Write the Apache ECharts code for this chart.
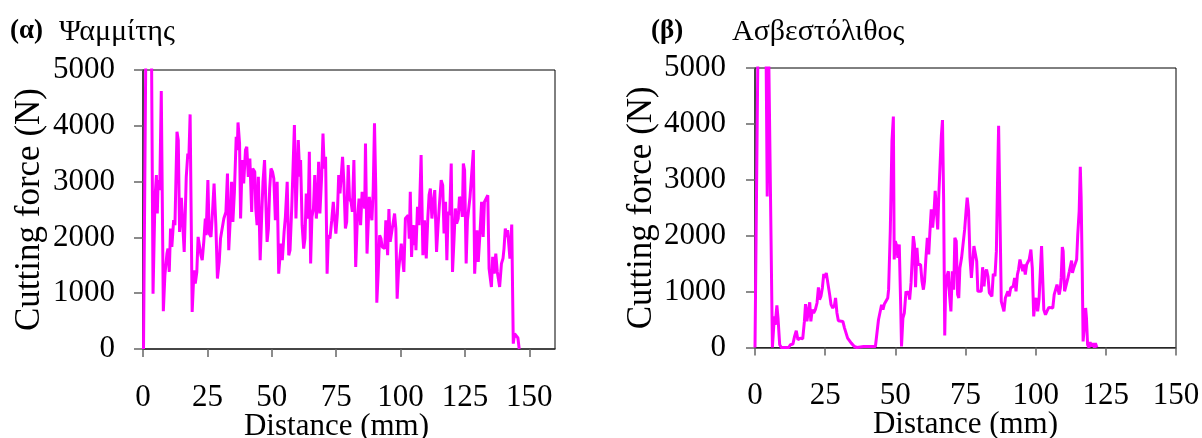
<!DOCTYPE html>
<html>
<head>
<meta charset="utf-8">
<script src="https://cdn.jsdelivr.net/npm/echarts@6/dist/echarts.min.js"></script>
<style>
html,body{margin:0;padding:0;background:#fff;}
#chart{width:1202px;height:438px;}
</style>
</head>
<body>
<div id="chart"></div>
<script>
// ---- Data ----
const leftTitleTag = '(α)';
const leftTitle = 'Ψαμμίτης';
const rightTitleTag = '(β)';
const rightTitle = 'Ασβεστόλιθος';
const xName = 'Distance (mm)';
const yName = 'Cutting force (N)';
const xTicks = [0, 25, 50, 75, 100, 125, 150];

const leftDist = [
  0.2,1.1,3.3,3.9,4.65,5.2,5.55,5.9,6.5,7.1,
  7.9,8.5,9.3,9.7,10.2,10.7,11.2,11.9,12.4,13.2,
  13.7,14.2,14.9,15.4,16.0,16.8,17.4,17.8,18.3,19.1,
  19.8,20.3,20.9,21.4,22.0,22.5,23.0,23.6,24.2,24.5,
  25.2,25.7,26.4,27.0,27.6,28.3,28.9,29.6,30.1,30.7,
  31.4,32.2,32.8,33.3,33.9,34.4,34.9,35.5,36.2,36.6,
  36.9,37.5,37.9,38.5,39.1,39.8,40.3,40.9,41.5,42.2,
  42.6,43.4,43.8,44.3,44.8,45.5,46.1,46.6,47.2,47.7,
  48.2,48.7,49.2,49.7,50.3,50.8,51.4,52.1,52.7,53.6,
  54.1,54.8,55.3,56.0,56.6,57.1,57.8,58.3,58.8,59.4,
  59.9,60.3,60.9,61.2,61.8,62.4,62.9,63.4,64.1,64.6,
  65.1,65.6,66.2,66.7,67.3,67.8,68.2,68.7,69.4,69.9,
  70.4,70.9,71.5,72.0,72.6,73.3,73.9,74.4,74.9,75.5,
  76.0,76.5,77.0,77.5,78.0,78.6,79.1,79.7,80.2,80.8,
  81.3,81.9,82.6,83.2,83.9,84.5,85.1,85.7,86.1,86.4,
  87.0,87.5,87.9,88.4,88.9,89.4,89.9,90.4,90.8,91.3,
  91.9,92.4,92.9,93.4,93.9,94.3,95.0,95.5,96.0,96.6,
  97.2,97.7,98.2,98.7,99.2,99.7,100.3,100.8,101.3,101.9,
  102.5,103.0,103.4,103.8,104.3,104.8,105.3,105.7,106.0,106.6,
  107.2,108.0,108.7,109.3,110.0,110.6,111.1,111.6,112.2,112.8,
  113.3,114.0,114.6,115.1,115.8,116.4,116.9,117.5,118.0,118.5,
  119.1,119.7,120.2,120.8,121.3,121.8,122.4,122.9,123.4,124.0,
  124.4,124.9,125.5,126.0,126.5,127.0,127.7,128.3,128.8,129.3,
  129.7,130.2,130.9,131.5,132.1,132.6,133.2,133.9,134.4,134.9,
  135.3,135.8,136.4,137.0,137.6,138.1,138.5,139.2,139.8,140.2,
  140.7,141.1,141.6,142.1,142.5,143.2,143.8,144.3,145.0,145.6,
  146.1
];
const leftForce = [
  0,5400,5400,990,2697,3116,2428,3026,2847,4623,
  676,1322,1710,1800,1381,2159,1830,2308,2219,3893,
  3743,2099,2709,2697,1740,3086,3504,3415,4204,664,
  1411,1172,1381,2009,2039,1680,1591,1920,2338,2039,
  3026,2069,2009,2458,2966,2219,1262,1561,1979,2009,
  2338,2458,3145,1770,2338,2996,2278,2817,3803,3564,
  4060,3684,2338,3385,2966,3564,3624,3086,3415,2458,
  3235,3175,2518,2219,3086,1591,2398,2996,3385,2637,
  1920,2159,2876,3235,3175,3056,2308,2996,1351,1890,
  1591,2099,2368,2996,1680,1770,2577,3295,4013,2338,
  3116,3743,3086,3385,2219,1800,1979,2787,2338,3534,
  1531,2368,2518,3116,2338,2637,3355,2428,3116,3863,
  3235,3444,1351,2039,1979,2308,2637,2338,2069,2428,
  3116,2787,2757,3444,2996,2159,2278,3295,2697,2637,
  2458,3385,1471,2278,2697,2219,2817,2847,2518,3684,
  1710,2278,2727,2458,2308,2847,4043,2876,831,1322,
  2039,1979,1830,1830,1800,2308,1680,2506,1920,1920,
  2278,2428,2159,903,1381,1351,1890,1621,1381,2338,
  2368,2398,1979,2817,1650,2219,1860,2219,1770,2550,
  2219,3474,1680,2308,1621,2338,2757,2876,2338,2637,
  2847,1740,2219,2577,3026,2936,2069,2637,1591,2458,
  2398,3325,1381,1979,2518,2248,2338,2727,2667,2368,
  3325,3205,1531,2308,2278,2727,3175,3564,1351,1830,
  2129,1561,2099,2637,2009,2637,2607,2757,1441,1441,
  1112,1650,1351,1710,1381,1411,1112,1531,1621,1800,
  2159,2009,2129,2129,1621,2231,96,275,245,197,
  0
];

const rightDist = [
  0,1.1,3.9,4.35,4.8,5.3,6.2,6.9,7.2,7.8,
  8.2,8.8,9.4,12.0,12.6,13.5,14.1,14.7,15.3,16.1,
  17.0,17.6,18.0,18.5,19.0,19.5,19.9,20.4,20.9,21.5,
  22.1,22.6,23.0,23.5,24.0,24.5,24.9,25.4,26.1,26.6,
  27.1,27.7,28.3,28.7,29.2,29.7,30.4,31.3,31.9,32.5,
  33.0,33.7,34.3,34.9,35.4,36.3,38.7,42.9,43.2,44.0,
  44.6,45.1,45.6,46.1,46.8,47.3,47.6,48.2,48.8,49.3,
  49.6,50.0,50.5,50.9,51.4,51.9,52.2,52.7,53.2,53.8,
  54.3,54.7,55.1,55.6,55.9,56.4,56.8,57.2,57.7,58.1,
  58.5,59.0,59.5,60.0,60.4,60.9,61.4,61.9,62.3,62.8,
  63.3,63.8,64.2,64.7,65.1,65.5,66.0,66.4,66.8,67.2,
  67.6,67.9,68.4,68.9,69.3,69.8,70.3,70.8,71.2,71.7,
  72.2,72.6,73.0,73.6,74.2,74.7,75.2,75.6,76.1,76.6,
  77.1,77.5,78.0,78.5,79.0,79.4,80.0,80.6,81.1,81.6,
  82.0,82.5,83.0,83.5,84.0,84.4,84.9,85.5,86.0,86.4,
  86.8,87.3,87.75,88.2,88.7,89.2,89.6,90.1,90.6,91.1,
  91.6,92.0,92.5,93.0,93.5,93.9,94.4,94.9,95.4,95.8,
  96.3,96.8,97.2,97.7,98.3,98.8,99.3,99.8,100.2,100.7,
  101.2,101.6,102.1,102.6,102.9,103.5,104.0,104.7,105.4,106.1,
  106.6,107.1,107.6,108.0,108.4,108.8,109.1,109.5,109.8,110.3,
  110.9,111.5,112.0,112.4,112.8,113.1,113.6,114.1,114.6,115.0,
  115.5,115.9,116.2,116.6,116.9,117.4,117.8,118.1,118.5,119.0,
  119.4,119.9,120.4,120.9,121.3,121.8
];
const rightForce = [
  0,5600,5600,2700,5600,5600,0,557,407,754,
  527,48,0,0,48,60,198,300,138,168,
  156,467,778,467,647,808,467,677,617,677,
  796,1077,856,916,1065,1317,1245,1335,1335,946,
  766,707,754,886,617,479,497,467,347,317,
  168,138,78,108,18,0,18,18,0,497,
  527,766,677,778,796,886,1035,2083,3699,4130,
  1574,1903,1814,1604,1843,766,18,527,617,1005,
  946,1005,856,1155,1125,1993,1843,1077,1783,1484,
  1454,1484,1185,1035,1185,1604,1963,1664,2053,2472,
  2143,2442,2801,2771,2113,2741,3340,3789,4070,2681,
  215,1005,1275,1364,946,647,1364,1035,1963,1903,
  946,886,1424,1604,1634,2113,2442,2681,2442,1604,
  1245,1215,1814,1814,1544,1005,976,1005,1436,1095,
  1335,1394,1275,976,946,916,1317,1275,1724,2921,
  3968,3968,826,796,647,886,916,1005,916,1065,
  1095,1095,1245,1005,1305,1394,1574,1604,1364,1484,
  1305,1484,1496,1574,1753,1424,557,826,886,647,
  856,886,1814,1843,677,587,647,718,707,707,
  946,946,1125,1155,946,1065,1245,1795,1724,1005,
  1017,1245,1364,1394,1556,1335,1424,1394,1574,2023,
  2442,3232,2681,1364,108,407,707,527,48,0,
  96,18,78,0,78,0
];

// ---- Chart ----
const FONT = 'Liberation Serif';
const chart = echarts.init(document.getElementById('chart'), null, {renderer: 'canvas'});

function xAxisCfg(gridIndex, max, namePad) {
  return {
    gridIndex, type: 'value', min: 0, max: max, interval: 25,
    axisLine: {show: true, onZero: false, lineStyle: {color: '#333', width: 1.5}},
    axisTick: {show: true, inside: false, length: 8, customValues: xTicks,
      lineStyle: {color: '#666', width: 1.5}},
    axisLabel: {show: true, customValues: xTicks, margin: 33, fontSize: 31,
      fontFamily: FONT, color: '#000',
      formatter: v => (v > 150 ? '' : String(v))},
    splitLine: {show: false},
    name: xName, nameLocation: 'middle', nameGap: 62, nameMoveOverlap: false,
    nameTextStyle: {fontSize: 31, fontFamily: FONT, color: '#000', padding: namePad}
  };
}
function yAxisCfg(gridIndex, margin, gap) {
  return {
    gridIndex, type: 'value', min: 0, max: 5000, interval: 1000,
    axisLine: {show: true, onZero: false, lineStyle: {color: '#333', width: 1.5}},
    axisTick: {show: true, inside: false, length: 9, lineStyle: {color: '#666', width: 1.5}},
    axisLabel: {show: true, margin: margin, fontSize: 31, fontFamily: FONT, color: '#000',
      formatter: v => String(v)},
    splitLine: {show: false},
    name: yName, nameLocation: 'middle', nameGap: gap, nameMoveOverlap: false,
    nameTextStyle: {fontSize: 35, fontFamily: FONT, color: '#000'}
  };
}
const titleStyle = (bold, size) => ({fontFamily: FONT, fontSize: size, fontWeight: bold ? 'bold' : 'normal', color: '#000'});

chart.setOption({
  animation: false,
  backgroundColor: '#fff',
  title: [
    {text: leftTitleTag, left: 10, top: 18, padding: 0, textStyle: titleStyle(true, 27)},
    {text: leftTitle, left: 59, top: 17, padding: 0, textStyle: titleStyle(false, 30)},
    {text: rightTitleTag, left: 651, top: 18, padding: 0, textStyle: titleStyle(true, 27)},
    {text: rightTitle, left: 732, top: 17, padding: 0, textStyle: titleStyle(false, 30)}
  ],
  grid: [
    {left: 143, top: 70, width: 412, height: 279, outerBoundsMode: 'none', containLabel: false,
      show: true, borderColor: '#000', borderWidth: 1, backgroundColor: 'transparent'},
    {left: 755, top: 68, width: 421, height: 279.5, outerBoundsMode: 'none', containLabel: false,
      show: true, borderColor: '#000', borderWidth: 1, backgroundColor: 'transparent'}
  ],
  xAxis: [xAxisCfg(0, 160, [0, 25, 0, 0]), xAxisCfg(1, 150, 0)],
  yAxis: [yAxisCfg(0, 28, 96), yAxisCfg(1, 29, 96)],
  series: [
    {type: 'line', xAxisIndex: 0, yAxisIndex: 0, symbol: 'none', clip: true,
      lineStyle: {color: '#FF00FF', width: 3}, itemStyle: {color: '#FF00FF'},
      data: leftDist.map((d, i) => [d, leftForce[i]])},
    {type: 'line', xAxisIndex: 1, yAxisIndex: 1, symbol: 'none', clip: true,
      lineStyle: {color: '#FF00FF', width: 3}, itemStyle: {color: '#FF00FF'},
      data: rightDist.map((d, i) => [d, rightForce[i]])}
  ]
});
</script>
</body>
</html>
